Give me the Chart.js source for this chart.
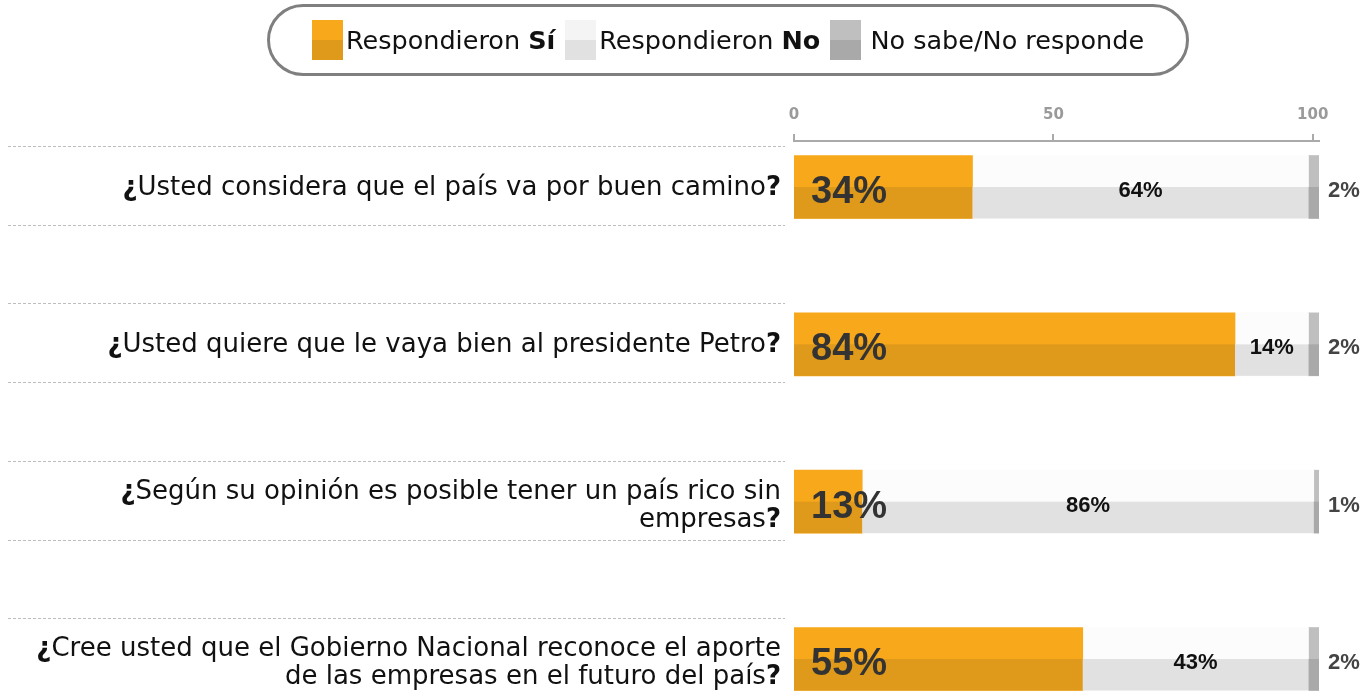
<!DOCTYPE html>
<html>
<head>
<meta charset="utf-8">
<script src="https://cdn.jsdelivr.net/npm/chart.js@4"></script>
<style>
  body { margin: 0; background: #fff; overflow: hidden; }
  #wrap { position: relative; width: 1372px; height: 695px; }
  #chart { position: absolute; left: 0; top: 0; }
  #legend {
    position: absolute; left: 267px; top: 4px; width: 916px; height: 66px;
    border: 3px solid #7f7f7f; border-radius: 36px;
    display: flex; align-items: center; justify-content: center;
    font-family: "DejaVu Sans"; font-size: 25.5px; color: #111;
  }
  .item { display: flex; align-items: center; margin: 0 5px; white-space: nowrap; }
  .sw { width: 31px; height: 40px; margin-right: 3px; }
</style>
</head>
<body>
<div id="wrap">
  <canvas id="chart" width="1372" height="695"></canvas>
  <div id="legend"></div>
</div>
<script>
// --- data ---
const questions = [
  ['¿Usted considera que el país va por buen camino?'],
  ['¿Usted quiere que le vaya bien al presidente Petro?'],
  ['¿Según su opinión es posible tener un país rico sin', 'empresas?'],
  ['¿Cree usted que el Gobierno Nacional reconoce el aporte', 'de las empresas en el futuro del país?']
];
const rows = [0, 1, 2, 3];
const si = [34, 84, 13, 55];
const no = [64, 14, 86, 43];
const nsnr = [2, 2, 1, 2];
const axisTicks = [0, 50, 100];
const legendLabels = [['Respondieron ', 'Sí'], ['Respondieron ', 'No'], ['No sabe/No responde', '']];

// top / bottom half colours of each series
const palSi = ['#F7A81B', '#DF991B'];
const palNo = ['#FCFCFC', '#E1E1E1'];
const palNs = ['#BFBFBF', '#A9A9A9'];
const palettes = [palSi, palNo, palNs];

// html legend
const legendEl = document.getElementById('legend');
legendLabels.forEach((lab, i) => {
  const pal = i === 1 ? ['#F4F4F4', '#E1E1E1'] : palettes[i];
  const item = document.createElement('div');
  item.className = 'item';
  item.innerHTML = `<span class="sw" style="background:linear-gradient(${pal[0]} 50%, ${pal[1]} 50%)"></span>` +
    `<span>${lab[0]}<b>${lab[1]}</b></span>`;
  if (i === 2) item.querySelector('.sw').style.marginRight = '9px';
  legendEl.appendChild(item);
});

function makeSet(label, values, pal) {
  return {
    label,
    data: values.map((v, i) => ({ x: v, y: rows[i] })),
    backgroundColor: pal[0],
    shade: pal[1],
    barThickness: 63,
    borderWidth: 0
  };
}

// draws darker bottom halves, value labels, question labels and dashed rules
const rowDecor = {
  id: 'rowDecor',
  afterDatasetsDraw(chart) {
    const ctx = chart.ctx;
    const yScale = chart.scales.y;

    ctx.save();
    chart.data.datasets.forEach((d, di) => {
      chart.getDatasetMeta(di).data.forEach(bar => {
        const p = bar.getProps(['x', 'y', 'base', 'height'], true);
        ctx.fillStyle = d.shade;
        ctx.fillRect(Math.min(p.x, p.base), p.y, Math.abs(p.x - p.base), p.height / 2);
      });
    });

    const siBars = chart.getDatasetMeta(0).data;
    const noBars = chart.getDatasetMeta(1).data;
    const nsBars = chart.getDatasetMeta(2).data;

    rows.forEach(i => {
      const c = yScale.getPixelForValue(i);

      // value labels
      ctx.textBaseline = 'alphabetic';
      ctx.textAlign = 'left';
      ctx.fillStyle = '#333';
      ctx.font = 'bold 38px "Liberation Sans"';
      ctx.fillText(si[i] + '%', siBars[i].base + 17, c + 16);

      ctx.textAlign = 'center';
      ctx.fillStyle = '#111';
      ctx.font = 'bold 22px "Liberation Sans"';
      ctx.fillText(no[i] + '%', (noBars[i].x + noBars[i].base) / 2, c + 10);

      ctx.fillStyle = '#444';
      ctx.fillText(nsnr[i] + '%', nsBars[i].x + 25, c + 10);

      // dashed rules
      ctx.strokeStyle = '#bdbdbd';
      ctx.lineWidth = 1;
      ctx.setLineDash([3, 2]);
      [c - 41, c + 38].forEach(ly => {
        ctx.beginPath();
        ctx.moveTo(8, Math.round(ly) + 0.5);
        ctx.lineTo(785, Math.round(ly) + 0.5);
        ctx.stroke();
      });
      ctx.setLineDash([]);

      // question text, right aligned, with bold ¿ and ?
      const lines = questions[i];
      const n = lines.length;
      ctx.textAlign = 'left';
      ctx.fillStyle = '#111';
      lines.forEach((line, k) => {
        const segs = [];
        let body = line;
        if (body.startsWith('¿')) { segs.push(['¿', true]); body = body.slice(1); }
        let tail = null;
        if (body.endsWith('?')) { tail = '?'; body = body.slice(0, -1); }
        segs.push([body, false]);
        if (tail) segs.push([tail, true]);
        const fontOf = b => (b ? 'bold ' : '') + '26px "DejaVu Sans"';
        let total = 0;
        segs.forEach(s => { ctx.font = fontOf(s[1]); total += ctx.measureText(s[0]).width; });
        let x = 781 - total;
        const baseY = c + 8 - (n - 1) * 11 + k * 28;
        segs.forEach(s => {
          ctx.font = fontOf(s[1]);
          ctx.fillText(s[0], x, baseY);
          x += ctx.measureText(s[0]).width;
        });
      });
    });
    ctx.restore();
  }
};

new Chart(document.getElementById('chart'), {
  type: 'bar',
  data: {
    datasets: [
      makeSet('Respondieron Sí', si, palSi),
      makeSet('Respondieron No', no, palNo),
      makeSet('No sabe/No responde', nsnr, palNs)
    ]
  },
  options: {
    indexAxis: 'y',
    responsive: false,
    animation: false,
    layout: { padding: { left: 794, right: 53, top: 96, bottom: 0 } },
    plugins: { legend: { display: false }, tooltip: { enabled: false } },
    scales: {
      x: { stacked: true, min: 0, max: 100, display: false },
      x2: {
        position: 'top', min: 0, max: 101.2,
        afterBuildTicks: s => { s.ticks = axisTicks.map(v => ({ value: v })); },
        grid: { drawOnChartArea: false, tickLength: 7, color: '#aaa', lineWidth: 2 },
        border: { color: '#aaa', width: 2 },
        ticks: { color: '#9a9a9a', padding: 10, font: { family: 'DejaVu Sans', size: 15, weight: 'bold' } }
      },
      y: {
        type: 'linear', offset: false, bounds: 'data', stacked: true, reverse: true,
        min: -0.2924, max: 3.2288, display: false
      }
    }
  },
  plugins: [rowDecor]
});
</script>
</body>
</html>
